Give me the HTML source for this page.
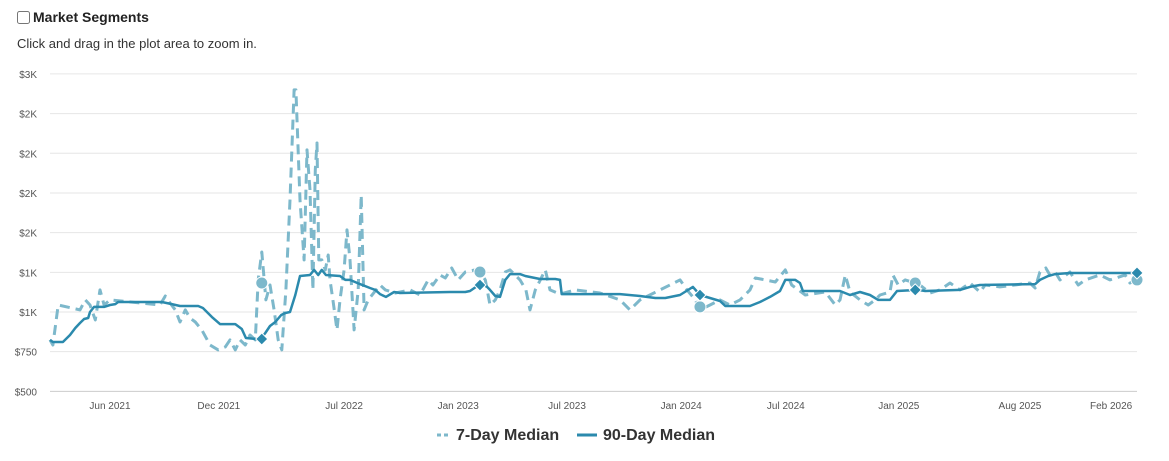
<!DOCTYPE html>
<html><head><meta charset="utf-8"><style>
body{margin:0;width:1169px;height:461px;background:#fff;font-family:"Liberation Sans",sans-serif;overflow:hidden;position:relative}
#hdr{position:absolute;left:17px;top:9px;font-size:14px;font-weight:bold;color:#222;display:flex;align-items:center}
#hdr input{margin:0 3px 0 0;width:13px;height:13px}
#sub{position:absolute;left:17px;top:36px;font-size:13px;color:#333}
svg{position:absolute;left:0;top:0}
</style></head><body>
<div id="hdr"><input type="checkbox">Market Segments</div>
<div id="sub">Click and drag in the plot area to zoom in.</div>
<svg id="chart" width="1169" height="461"></svg>
<script>
const yTickValues=[500,750,1000,1250,1500,1750,2000,2250,2500];
const yTickLabels=["$500","$750","$1K","$1K","$2K","$2K","$2K","$2K","$3K"];
const xTickDays=[102,287,500,694,879,1073,1251,1443,1649,1804];
const xTickLabels=["Jun 2021","Dec 2021","Jul 2022","Jan 2023","Jul 2023","Jan 2024","Jul 2024","Jan 2025","Aug 2025","Feb 2026"];
const day90=[0,5,22,34,43,51,58,65,68,75,92,102,111,116,190,207,221,252,260,275,289,315,326,333,350,357,366,374,383,393,400,408,417,425,442,449,456,462,469,493,502,510,527,544,553,561,571,585,595,680,706,714,731,740,748,757,765,774,782,799,808,833,859,867,870,969,1003,1029,1046,1071,1093,1105,1122,1139,1148,1190,1207,1224,1241,1250,1267,1275,1280,1343,1360,1377,1394,1408,1428,1440,1476,1488,1547,1564,1581,1675,1683,1697,1709,1734,1848];
const val90=[824,811,811,855,899,931,956,962,1000,1032,1032,1044,1050,1063,1063,1050,1038,1038,1025,969,924,924,893,836,830,824,868,912,937,981,994,1000,1107,1227,1233,1265,1233,1265,1233,1227,1202,1202,1176,1151,1139,1113,1095,1126,1120,1126,1126,1132,1176,1170,1139,1101,1095,1202,1239,1239,1227,1208,1208,1202,1113,1113,1101,1088,1088,1107,1158,1107,1088,1069,1038,1038,1063,1095,1132,1202,1202,1183,1132,1132,1107,1126,1107,1076,1076,1132,1139,1132,1139,1158,1170,1176,1202,1227,1239,1246,1246];
const day7=[0,5,14,37,51,60,68,77,85,92,102,153,187,196,204,213,221,230,238,247,258,272,286,298,306,315,323,332,340,349,354,360,367,374,381,388,394,401,408,415,418,425,432,437,442,447,451,454,457,462,468,473,476,481,488,493,500,505,510,517,524,529,534,541,561,570,587,612,629,643,651,663,672,683,694,706,723,731,740,748,757,765,774,782,799,809,816,825,842,850,867,893,935,969,986,1003,1037,1054,1071,1083,1097,1105,1122,1139,1156,1173,1190,1199,1216,1233,1250,1261,1284,1318,1335,1343,1352,1360,1377,1391,1403,1411,1428,1433,1442,1454,1471,1479,1496,1513,1530,1547,1564,1581,1590,1615,1666,1675,1683,1693,1700,1709,1717,1734,1748,1760,1785,1802,1828,1836,1848];
const val7=[824,792,1044,1025,1013,1076,1044,950,1139,1044,1076,1057,1044,1101,1057,1013,937,1013,962,937,887,792,761,780,824,761,824,792,855,824,1202,1378,1076,1170,1013,824,761,1139,1706,2399,2399,1706,1328,2021,1769,1139,1895,2065,1328,1328,1265,1359,1202,1076,887,1076,1265,1517,1328,887,1139,1737,1013,1076,1170,1139,1120,1139,1107,1202,1170,1233,1214,1277,1202,1252,1265,1252,1202,1044,1076,1139,1252,1265,1202,1139,1013,1139,1265,1139,1113,1139,1120,1076,1013,1076,1139,1170,1202,1139,1076,1013,1044,1076,1044,1076,1139,1214,1202,1189,1265,1170,1107,1126,1044,1076,1233,1126,1076,1044,1076,1107,1126,1233,1170,1202,1183,1170,1120,1139,1183,1139,1183,1126,1170,1158,1183,1151,1252,1277,1233,1252,1202,1252,1170,1202,1233,1202,1233,1183,1202];
const markDays=[360,731,1105,1471,1848];
const mark7=[1183,1252,1032,1183,1202];
const mark90=[830,1170,1107,1139,1246];

const NS="http://www.w3.org/2000/svg";
const svg=document.getElementById('chart');
const X0=50,X1=1137,DMAX=1848;
const xs=d=>X0+d*(X1-X0)/DMAX;
const ys=v=>312-(v-1000)/6.3;
function mk(tag,attrs,parent){const e=document.createElementNS(NS,tag);for(const k in attrs)e.setAttribute(k,attrs[k]);(parent||svg).appendChild(e);return e;}
yTickValues.forEach((v,i)=>{
  const g=mk('line',{x1:X0,x2:X1,y1:ys(v),y2:ys(v),stroke:i===0?'#ccc':'#e6e6e6','stroke-width':1});
  
  
  const t=mk('text',{x:37,y:ys(v)+4,'text-anchor':'end','font-size':10,fill:'#555'});
  t.textContent=yTickLabels[i];
  
  
});
xTickDays.forEach((d,i)=>{
  const t=mk('text',{x:xs(d),y:409,'text-anchor':'middle','font-size':10,fill:'#555'});
  t.textContent=xTickLabels[i];
  
  
});
const pts=(D,V)=>D.map((d,i)=>xs(d).toFixed(1)+','+ys(V[i]).toFixed(1)).join(' ');
const l7=mk('polyline',{points:pts(day7,val7),fill:'none',stroke:'#7db8cb','stroke-width':3,'stroke-dasharray':'10,6','stroke-linejoin':'round'});


const l90=mk('polyline',{points:pts(day90,val90),fill:'none',stroke:'#2b8aad','stroke-width':2.5,'stroke-linejoin':'round'});


markDays.forEach((d,i)=>{
  const c=mk('circle',{cx:xs(d),cy:ys(mark7[i]),r:6,fill:'#7db8cb',stroke:'#fff','stroke-width':1});
  
  
  const x=xs(d),y=ys(mark90[i]);
  const p=mk('polygon',{points:`${x},${y-6} ${x+6},${y} ${x},${y+6} ${x-6},${y}`,fill:'#2b8aad',stroke:'#fff','stroke-width':1});
  
  
});
const lg1=mk('g',{});


mk('line',{x1:437,x2:449,y1:435,y2:435,stroke:'#7db8cb','stroke-width':3,'stroke-dasharray':'4,3'},lg1);
const t1=mk('text',{x:456,y:440,'font-size':16,'font-weight':'bold',fill:'#333'},lg1);t1.textContent='7-Day Median';
const lg2=mk('g',{});


mk('line',{x1:577,x2:597,y1:435,y2:435,stroke:'#2b8aad','stroke-width':3},lg2);
const t2=mk('text',{x:603,y:440,'font-size':16,'font-weight':'bold',fill:'#333'},lg2);t2.textContent='90-Day Median';
</script>
</body></html>
